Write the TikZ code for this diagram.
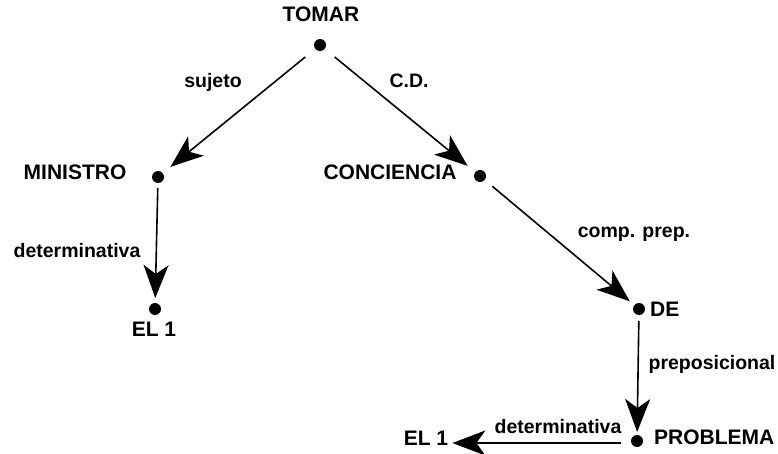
\documentclass[tikz,border=0pt]{standalone}
\usepackage{fontspec}
\newfontfamily\labfont{Liberation Sans}
\usetikzlibrary{arrows.meta}

\tikzset{
  dot/.style={circle, fill=black, inner sep=0pt, minimum size=12pt, outer sep=0pt},
  word/.style={font=\labfont\bfseries\fontsize{19.5}{24}\selectfont, inner sep=0pt, anchor=base},
  head/.style={word, font=\labfont\bfseries\fontsize{21}{25}\selectfont},
  link/.style={line width=1.6pt,
    -{Stealth[length=33pt, width=25pt, inset=9pt]}},
}

\begin{document}
\begin{tikzpicture}[x=1pt, y=-1pt]
  \useasboundingbox (0,0) rectangle (778,454);

  % tree nodes (dots)
  \node[dot] (tomar)   at (320,45)  {};
  \node[dot] (min)     at (158,177) {};
  \node[dot] (conc)    at (480,176) {};
  \node[dot] (el)      at (155,309) {};
  \node[dot] (de)      at (639,309) {};
  \node[dot] (prob)    at (637,441) {};

  % node names
  \node[head] (tTomar) at (321,22)  {TOMAR};
  \node[head] (tMin)   at (75,180)  {MINISTRO};
  \node[head] (tConc)  at (390,180) {CONCIENCIA};
  \node[head] (tEl)    at (154,336) {EL 1};
  \node[head, anchor=base west] (tDe) at (650,316) {DE};
  \node[head, anchor=base west] (tProb) at (654,444) {PROBLEMA};
  \node[head] (tElb)   at (426,445) {EL 1};

  % dependencies
  \draw[link, shorten <=13pt, shorten >=10pt] (tomar) -- (min);
  \draw[link, shorten <=13pt, shorten >=10pt] (tomar) -- (conc);
  \draw[link, shorten <=5pt, shorten >=5pt] (min) -- (el);
  \draw[link, shorten <=10pt, shorten >=6pt] (conc) -- (de);
  \draw[link, shorten <=6pt, shorten >=3pt] (de) -- (prob);
  \coordinate (pW) at ([xshift=-16pt,yshift=-2pt]prob.center);
  \draw[link, shorten >=4pt] (pW) -- (pW -| tElb.east);

  % relation labels
  \node[word] (lSuj)  at (213,88)  {sujeto};
  \node[word] (lCD)   at (409,88)  {C.D.};
  \node[word] (lDet)  at (77,257)  {determinativa};
  \node[word] (lComp) at (634,237) {comp. prep.};
  \node[word] (lPrep) at (712,369) {preposicional};
  \node[word] (lDetb) at (558,433) {determinativa};
\end{tikzpicture}
\end{document}
